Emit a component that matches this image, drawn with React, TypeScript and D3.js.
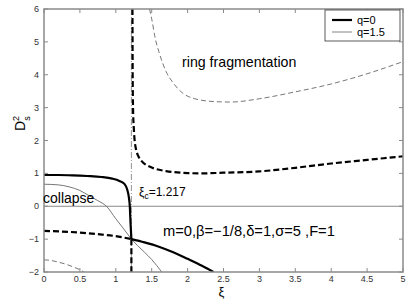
import React, { useEffect, useRef } from 'react';
import * as d3 from 'd3';

// q=0 branches (thick black)
const q0Collapse: [number, number][] = [
  [0, 0.95], [0.2, 0.95], [0.4, 0.94], [0.6, 0.92], [0.8, 0.89], [0.95, 0.84],
  [1.05, 0.77], [1.12, 0.68], [1.16, 0.5], [1.18, 0.3], [1.195, 0.0], [1.205, -0.5], [1.217, -1.0],
];
const q0Lower: [number, number][] = [
  [1.217, -1.0], [1.4, -1.1], [1.6, -1.23], [1.8, -1.4], [2.0, -1.6], [2.2, -1.81], [2.36, -2.0],
];
const q0DashLower: [number, number][] = [
  [0, -0.75], [0.25, -0.77], [0.5, -0.8], [0.75, -0.85], [1.0, -0.91], [1.217, -1.0],
];
const q0DashDrop: [number, number][] = [
  [1.217, -1.0], [1.217, -2.0],
];
const q0DashUpper: [number, number][] = [
  [1.232, 6.0], [1.235, 4.0], [1.24, 3.0], [1.25, 2.4], [1.28, 1.75], [1.35, 1.4], [1.5, 1.18],
  [1.7, 1.07], [2.0, 1.01], [2.2, 1.0], [2.5, 1.02], [3.0, 1.06], [3.5, 1.17], [4.0, 1.3],
  [4.5, 1.41], [5.0, 1.52],
];

// q=1.5 branches (thin gray)
const q15Collapse: [number, number][] = [
  [0, 0.67], [0.2, 0.65], [0.35, 0.59], [0.5, 0.48], [0.62, 0.33], [0.75, 0.17], [0.87, 0.0],
  [1.0, -0.38], [1.1, -0.66], [1.217, -1.0],
];
const q15Lower: [number, number][] = [
  [1.217, -1.0], [1.3, -1.19], [1.4, -1.4], [1.5, -1.62], [1.64, -2.0],
];
const q15DashLower: [number, number][] = [
  [0, -1.63], [0.1, -1.65], [0.2, -1.7], [0.3, -1.76], [0.4, -1.84], [0.5, -1.93], [0.56, -2.0],
];
const q15DashUpper: [number, number][] = [
  [1.47, 6.0], [1.5, 5.7], [1.55, 5.1], [1.6, 4.7], [1.7, 4.1], [1.8, 3.75], [1.9, 3.5],
  [2.1, 3.27], [2.4, 3.18], [2.6, 3.17], [3.0, 3.27], [3.5, 3.48], [4.0, 3.72], [4.5, 4.03], [5.0, 4.4],
];

const xiC = 1.217;
const xTicks = [0, 0.5, 1, 1.5, 2, 2.5, 3, 3.5, 4, 4.5, 5];
const yTicks = [-2, -1, 0, 1, 2, 3, 4, 5, 6];
const legendItems = [
  { label: 'q=0', color: '#000', width: 2.2 },
  { label: 'q=1.5', color: '#777', width: 0.9 },
];

const FONT = '"Liberation Sans", Arial, sans-serif';

function App() {
  const ref = useRef<SVGSVGElement | null>(null);

  useEffect(() => {
    const element = ref.current;
    if (!element) return;
    const svg = d3.select(element);
    svg.selectAll('*').remove();

    const width = 409;
    const height = 300;
    const margin = { left: 44, right: 6, top: 9, bottom: 28 };

    const x = d3.scaleLinear().domain([0, 5]).range([margin.left, width - margin.right]);
    const y = d3.scaleLinear().domain([-2, 6]).range([height - margin.bottom, margin.top]);

    svg.append('defs').append('clipPath').attr('id', 'plot-clip')
      .append('rect')
      .attr('x', x(0)).attr('y', y(6))
      .attr('width', x(5) - x(0)).attr('height', y(-2) - y(6));

    const axisColor = '#8a8a8a';
    const g = svg.append('g');

    // zero line
    g.append('line')
      .attr('x1', x(0)).attr('x2', x(5)).attr('y1', y(0)).attr('y2', y(0))
      .attr('stroke', '#888').attr('stroke-width', 1);

    // critical xi line
    g.append('line')
      .attr('x1', x(xiC)).attr('x2', x(xiC)).attr('y1', y(6)).attr('y2', y(-2))
      .attr('stroke', '#777').attr('stroke-width', 0.8)
      .attr('stroke-dasharray', '6,2,1,2');

    const line = d3.line<[number, number]>()
      .x((d) => x(d[0]))
      .y((d) => y(d[1]))
      .curve(d3.curveMonotoneX);
    const straight = d3.line<[number, number]>()
      .x((d) => x(d[0]))
      .y((d) => y(d[1]));

    const curves = g.append('g').attr('clip-path', 'url(#plot-clip)');
    const draw = (data: [number, number][], color: string, w: number, dash: string | null, gen = line) => {
      curves.append('path')
        .attr('d', gen(data))
        .attr('fill', 'none')
        .attr('stroke', color)
        .attr('stroke-width', w)
        .attr('stroke-dasharray', dash);
    };

    draw(q15Collapse, '#666', 0.9, null);
    draw(q15Lower, '#666', 0.9, null);
    draw(q15DashLower, '#666', 0.9, '5,3');
    draw(q15DashUpper, '#666', 0.9, '5,3');

    draw(q0Collapse, '#000', 2.2, null);
    draw(q0Lower, '#000', 2.2, null);
    draw(q0DashLower, '#000', 2.2, '6,3');
    draw(q0DashDrop, '#000', 2.2, '6,3', straight);
    draw(q0DashUpper, '#000', 2.2, '6,3');

    // box
    g.append('rect')
      .attr('x', x(0)).attr('y', y(6))
      .attr('width', x(5) - x(0)).attr('height', y(-2) - y(6))
      .attr('fill', 'none').attr('stroke', axisColor).attr('stroke-width', 1.5);

    const tl = 4;
    // ticks on all four sides
    g.selectAll('line.xb').data(xTicks).join('line')
      .attr('class', 'xb')
      .attr('x1', (d) => x(d)).attr('x2', (d) => x(d))
      .attr('y1', y(-2)).attr('y2', y(-2) - tl)
      .attr('stroke', axisColor);
    g.selectAll('line.xt').data(xTicks).join('line')
      .attr('class', 'xt')
      .attr('x1', (d) => x(d)).attr('x2', (d) => x(d))
      .attr('y1', y(6)).attr('y2', y(6) + tl)
      .attr('stroke', axisColor);
    g.selectAll('line.yl').data(yTicks).join('line')
      .attr('class', 'yl')
      .attr('x1', x(0)).attr('x2', x(0) + tl)
      .attr('y1', (d) => y(d)).attr('y2', (d) => y(d))
      .attr('stroke', axisColor);
    g.selectAll('line.yr').data(yTicks).join('line')
      .attr('class', 'yr')
      .attr('x1', x(5)).attr('x2', x(5) - tl)
      .attr('y1', (d) => y(d)).attr('y2', (d) => y(d))
      .attr('stroke', axisColor);

    // tick labels
    g.selectAll('text.xl').data(xTicks).join('text')
      .attr('class', 'xl')
      .attr('x', (d) => x(d)).attr('y', y(-2) + 10)
      .attr('text-anchor', 'middle')
      .style('font-family', FONT).style('font-size', '9px').attr('fill', '#333')
      .text((d) => String(d));
    g.selectAll('text.ylab').data(yTicks).join('text')
      .attr('class', 'ylab')
      .attr('x', x(0) - 5).attr('y', (d) => y(d) + 3)
      .attr('text-anchor', 'end')
      .style('font-family', FONT).style('font-size', '9px').attr('fill', '#333')
      .text((d) => (d < 0 ? '\u2212' + Math.abs(d) : String(d)));

    // axis labels
    g.append('text')
      .attr('x', x(2.47)).attr('y', 296)
      .attr('text-anchor', 'middle')
      .style('font-family', FONT).style('font-size', '13px')
      .text('ξ');

    const yl = g.append('text')
      .attr('transform', `translate(25, 131) rotate(-90)`)
      .style('font-family', FONT).style('font-size', '14px');
    yl.append('tspan').text('D');
    yl.append('tspan').attr('dy', -6).style('font-size', '9px').text('2');
    yl.append('tspan').attr('dx', -5).attr('dy', 11).style('font-size', '9px').text('s');

    // annotations
    g.append('text')
      .attr('x', 182).attr('y', 67)
      .style('font-family', FONT).style('font-size', '14.2px')
      .text('ring fragmentation');
    g.append('text')
      .attr('x', 43).attr('y', 203)
      .style('font-family', FONT).style('font-size', '14px')
      .text('collapse');
    const xc = g.append('text')
      .attr('x', 139).attr('y', 196)
      .style('font-family', FONT).style('font-size', '12px');
    xc.append('tspan').text('ξ');
    xc.append('tspan').attr('dy', 3).style('font-size', '8.5px').text('c');
    xc.append('tspan').attr('dy', -3).text('=1.217');
    g.append('text')
      .attr('x', 163).attr('y', 236)
      .style('font-family', FONT).style('font-size', '14.7px')
      .text('m=0,β=−1/8,δ=1,σ=5 ,F=1');

    // legend
    const lg = g.append('g');
    lg.append('rect')
      .attr('x', 325).attr('y', 10).attr('width', 75).attr('height', 31)
      .attr('fill', '#fff').attr('stroke', '#333').attr('stroke-width', 0.8);
    legendItems.forEach((item, i) => {
      const yy = 20 + i * 12;
      lg.append('line')
        .attr('x1', 332).attr('x2', 352).attr('y1', yy).attr('y2', yy)
        .attr('stroke', item.color).attr('stroke-width', item.width);
      lg.append('text')
        .attr('x', 357).attr('y', yy + 4)
        .style('font-family', FONT).style('font-size', '11px')
        .text(item.label);
    });
  }, []);

  return (
    <svg
      ref={ref}
      width={409}
      height={300}
      style={{ position: 'absolute', left: 0, top: 0, background: '#fff', display: 'block' }}
    />
  );
}

export default App;
